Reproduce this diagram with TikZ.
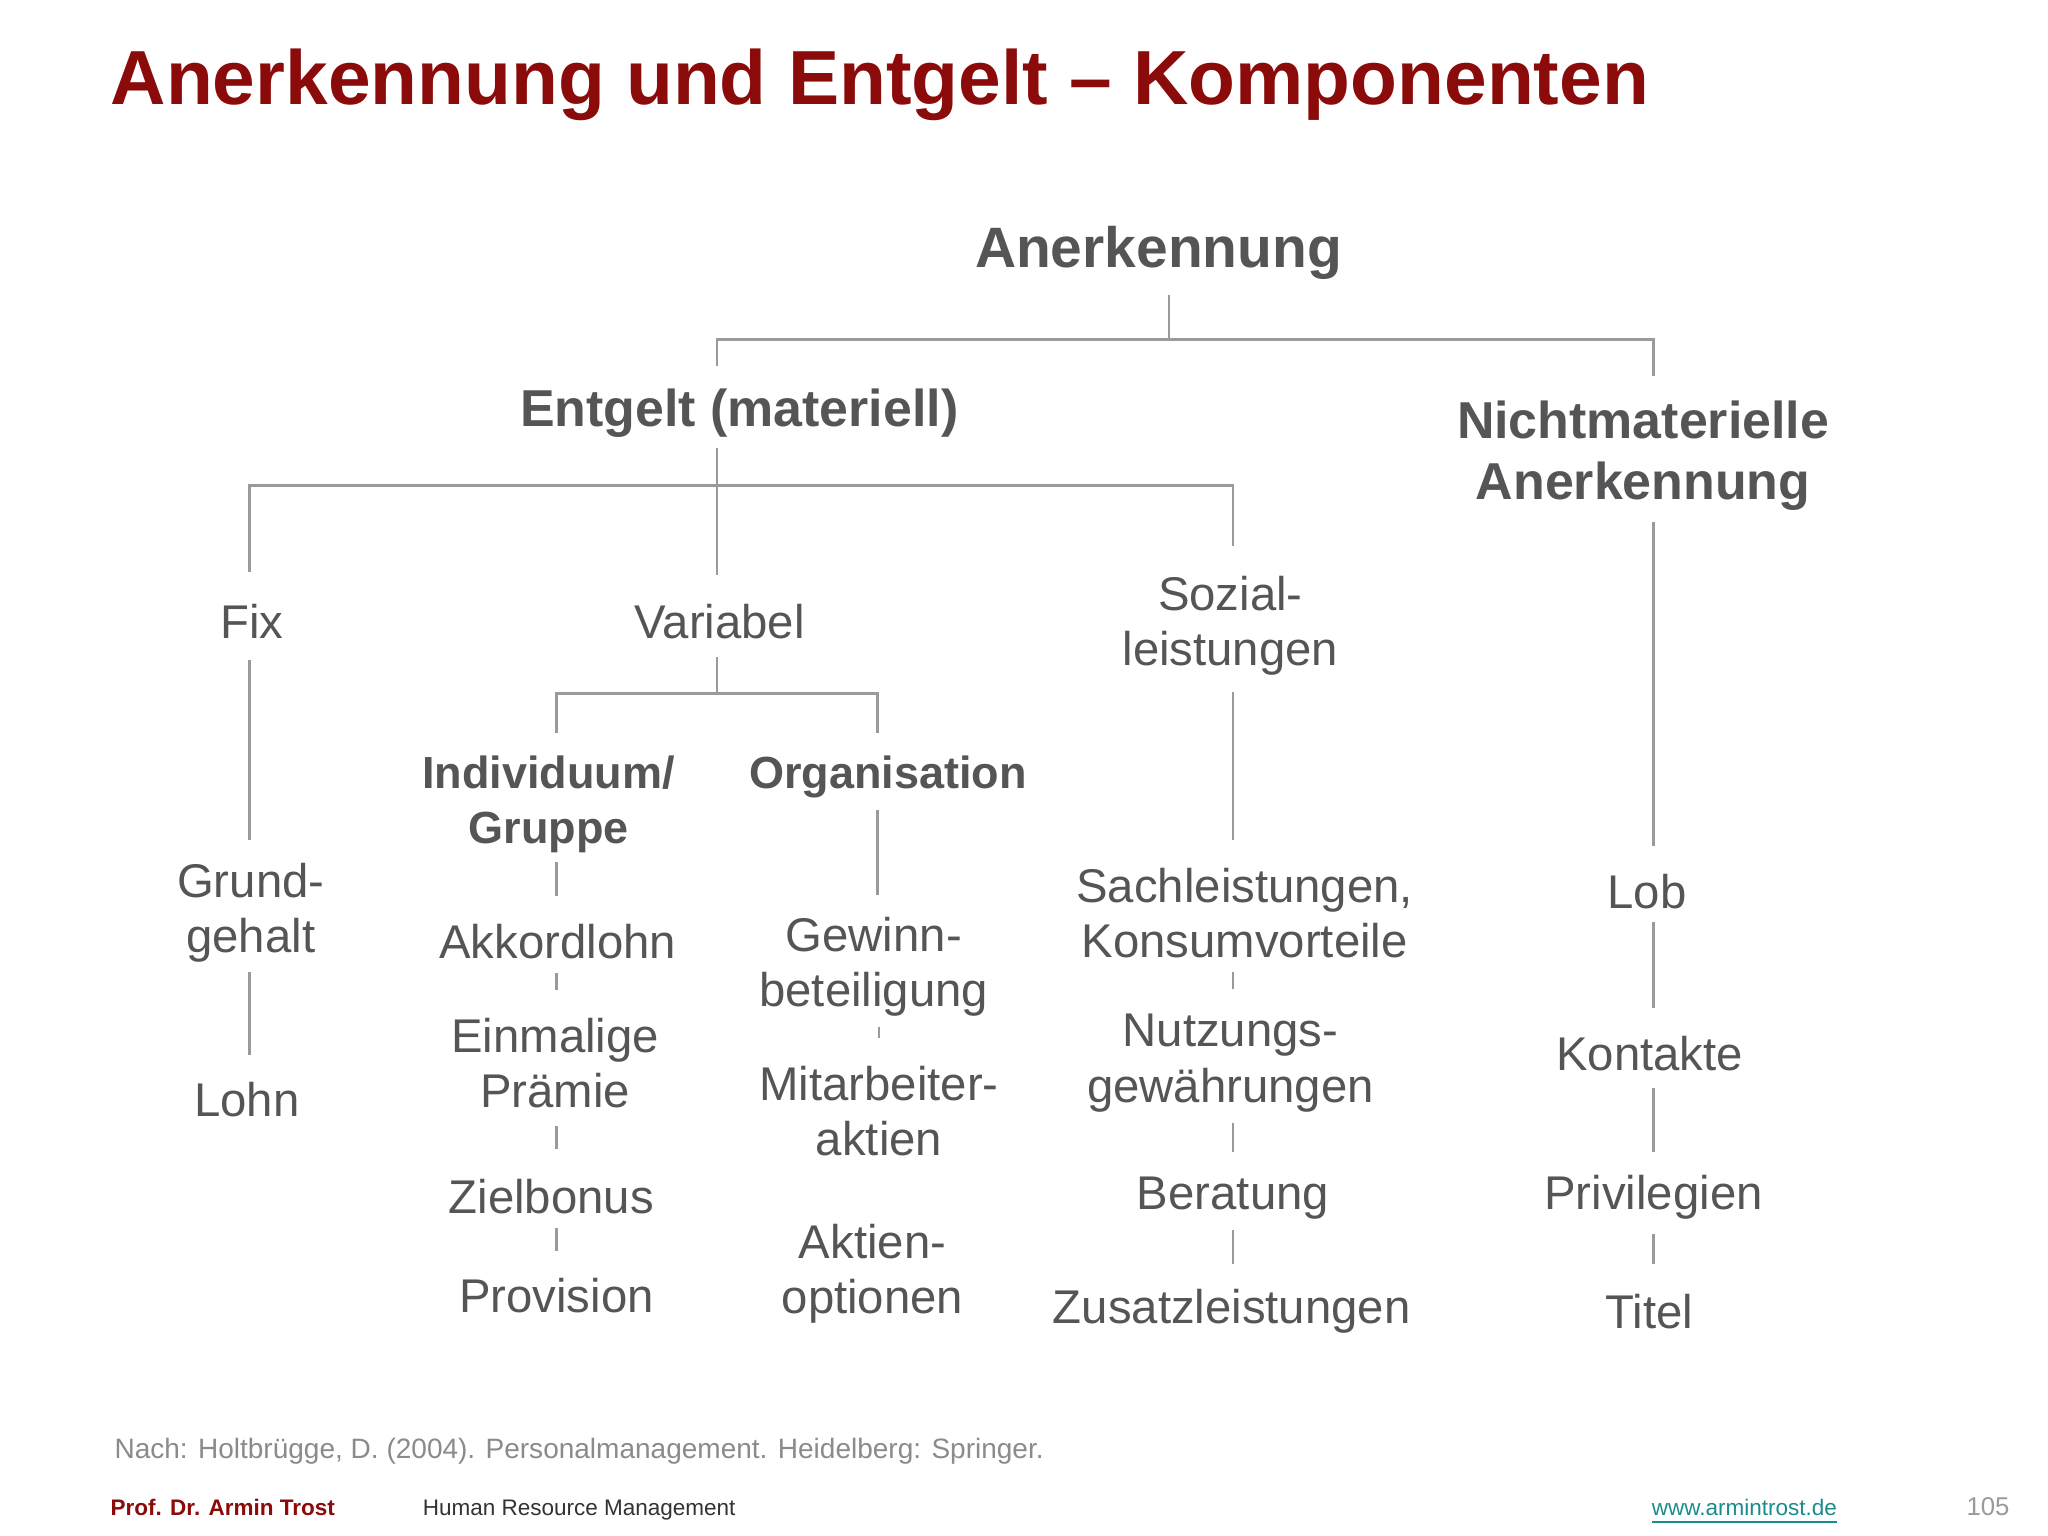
\documentclass[tikz,border=0pt]{standalone}
\usepackage{fontspec}
\setmainfont{Liberation Sans}
\definecolor{dred}{HTML}{8B0A0A}
\definecolor{tg}{HTML}{555558}
\definecolor{lg}{HTML}{9A9A9A}
\definecolor{teal}{HTML}{1A8C8C}
\begin{document}
\begin{tikzpicture}[x=0.01cm,y=-0.01cm,
  big/.style={font=\fontsize{12.4}{15}\selectfont\bfseries,text=tg,align=center,inner sep=0},
  mid/.style={font=\fontsize{11.3}{13.4}\selectfont\bfseries,text=tg,align=center,inner sep=0},
  bsub/.style={font=\fontsize{9.8}{12}\selectfont\bfseries,text=tg,align=center,inner sep=0},
  itm/.style={font=\fontsize{10.3}{12}\selectfont,text=tg,align=center,inner sep=0},
  ln/.style={draw=lg,line width=0.6pt}]
\useasboundingbox (0,0) rectangle (1568,1176);
\fill[white] (0,0) rectangle (1568,1176);
\node[anchor=base west,inner sep=0,text=dred,font=\fontsize{16.7}{18}\selectfont\bfseries] (title) at (84,80) {Anerkennung und Entgelt -- Komponenten};
\begin{scope}[yshift=-0.04cm]
\node[big] (anr) at (887,190) {Anerkennung};
\node[mid] (ent) at (566,312) {Entgelt (materiell)};
\node[mid] (nma) at (1258,345) {Nichtmaterielle\\Anerkennung};
\node[itm] (fix) at (193,472) {Fix};
\node[itm] (var) at (551,472) {Variabel};
\node[itm] (soz) at (942,475) {Sozial-\\leistungen};
\node[bsub] (ind) at (420,612) {Individuum/\\Gruppe};
\node[bsub] (org) at (680,591) {Organisation};
\node[itm] (gg) at (192,695) {Grund-\\gehalt};
\node[itm] (lohn) at (189,838) {Lohn};
\node[itm] (akk) at (427,717) {Akkordlohn};
\node[itm] (ein) at (425,810) {Einmalige\\Prämie};
\node[itm] (ziel) at (422,912) {Zielbonus};
\node[itm] (prov) at (426,988) {Provision};
\node[itm] (gew) at (669,736) {Gewinn-\\beteiligung};
\node[itm] (mit) at (673,847) {Mitarbeiter-\\aktien};
\node[itm] (akt) at (668,971) {Aktien-\\optionen};
\node[itm] (sach) at (953,695) {Sachleistungen,\\Konsumvorteile};
\node[itm] (nutz) at (942,810) {Nutzungs-\\gewährungen};
\node[itm] (ber) at (944,913) {Beratung};
\node[itm] (zus) at (943,1000) {Zusatzleistungen};
\node[itm] (lob) at (1261,679) {Lob};
\node[itm] (kon) at (1263,803) {Kontakte};
\node[itm] (pri) at (1266,913) {Privilegien};
\node[itm] (tit) at (1263,1000) {Titel};
\end{scope}
% connectors
\draw[ln] (895,226) -- (895,260);
\draw[ln] (549,280) -- (549,260) -- (1266,260) -- (1266,288);
\draw[ln] (549,343) -- (549,440);
\draw[ln] (191,438) -- (191,372) -- (944,372) -- (944,418);
\draw[ln] (1266,400) -- (1266,648);
\draw[ln] (191,505) -- (191,643);
\draw[ln] (549,503) -- (549,531);
\draw[ln] (426,561) -- (426,531) -- (672,531) -- (672,561);
\draw[ln] (944,530) -- (944,643);
\draw[ln] (426,660) -- (426,686);
\draw[ln] (672,620) -- (672,685);
\draw[ln] (191,744) -- (191,808);
\draw[ln] (426,745) -- (426,758);
\draw[ln] (426,862) -- (426,880);
\draw[ln] (426,940) -- (426,958);
\draw[ln] (673,786) -- (673,795);
\draw[ln] (944,744) -- (944,757);
\draw[ln] (944,860) -- (944,882);
\draw[ln] (944,942) -- (944,968);
\draw[ln] (1266,706) -- (1266,772);
\draw[ln] (1266,833) -- (1266,882);
\draw[ln] (1266,945) -- (1266,968);
% footer
\node[anchor=base west,inner sep=0,text=lg!90!black,font=\fontsize{6.1}{7}\selectfont] (src) at (87,1117) {Nach: Holtbrügge, D. (2004). Personalmanagement. Heidelberg: Springer.};
\node[anchor=base west,inner sep=0,text=dred,font=\fontsize{4.9}{6}\selectfont\bfseries] (prof) at (84,1160) {Prof. Dr. Armin Trost};
\node[anchor=base west,inner sep=0,text=black!80,font=\fontsize{4.9}{6}\selectfont] (hrm) at (323,1160) {Human Resource Management};
\node[anchor=base west,inner sep=0,text=teal,font=\fontsize{4.9}{6}\selectfont] (www) at (1264,1160) {\underline{www.armintrost.de}};
\node[anchor=base west,inner sep=0,text=lg,font=\fontsize{5.6}{6}\selectfont] (pg) at (1505,1160) {105};
\end{tikzpicture}
\end{document}
